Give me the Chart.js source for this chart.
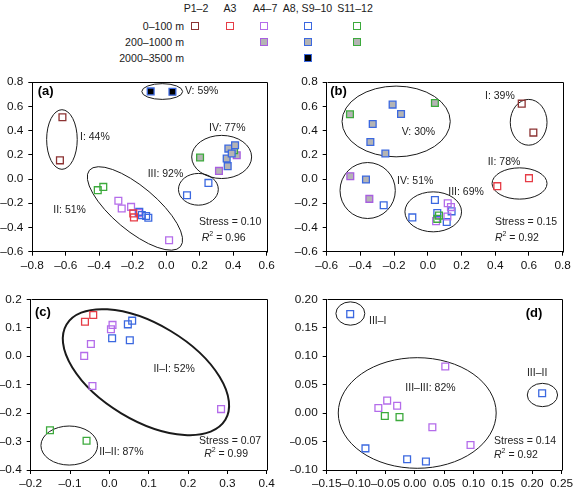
<!DOCTYPE html>
<html><head><meta charset="utf-8">
<script src="https://cdn.jsdelivr.net/npm/chart.js@4"></script>
<style>
body{margin:0;width:576px;height:491px;background:#fff;position:relative;font-family:'Liberation Sans',Arial,sans-serif;overflow:hidden}
canvas{position:absolute}
.lg{position:absolute;font-size:10.6px;color:#1a1a1a;white-space:nowrap;line-height:1}
.sq{position:absolute;box-sizing:border-box;width:8px;height:8px;border:1.3px solid}
</style></head><body>
<script>
// ---------- legend text ----------
const groupNames = ['P1–2', 'A3', 'A4–7', 'A8, S9–10', 'S11–12'];
const depthNames = ['0–100 m', '200–1000 m', '2000–3500 m'];

// ---------- panel (a) ----------
const a_P12_0 = [[-0.62, 0.51], [-0.635, 0.154]];
const a_A3_0 = [[-0.197, -0.284], [-0.193, -0.317]];
const a_A47_0 = [[-0.286, -0.18], [-0.266, -0.243], [-0.21, -0.23], [-0.165, -0.28], [0.017, -0.505]];
const a_A47_1 = [[0.315, 0.067], [0.421, 0.196]];
const a_A8_0 = [[-0.161, -0.271], [-0.146, -0.298], [-0.12, -0.305], [-0.107, -0.32], [0.124, -0.134], [0.252, -0.032]];
const a_A8_1 = [[0.367, 0.106], [0.361, 0.169], [0.371, 0.251], [0.411, 0.279], [0.391, 0.21]];
const a_A8_2 = [[-0.093, 0.723], [0.037, 0.72]];
const a_S11_0 = [[-0.409, -0.092], [-0.376, -0.065]];
const a_S11_1 = [[0.202, 0.177], [0.405, 0.237]];
const a_xTicks = [-0.8, -0.6, -0.4, -0.2, 0.0, 0.2, 0.4, 0.6];
const a_yTicks = [-0.6, -0.4, -0.2, 0.0, 0.2, 0.4, 0.6, 0.8];

// ---------- panel (b) ----------
const b_P12_0 = [[0.557, 0.622], [0.626, 0.383]];
const b_A3_0 = [[0.412, -0.059], [0.6, 0.007]];
const b_A47_0 = [[0.118, -0.2], [0.137, -0.232], [0.116, -0.31], [0.049, -0.348]];
const b_A47_1 = [[-0.46, 0.023], [-0.347, -0.164]];
const b_A8_0 = [[-0.262, -0.216], [-0.092, -0.317], [0.042, -0.173], [0.056, -0.28], [0.141, -0.267], [0.112, -0.355]];
const b_A8_1 = [[-0.209, 0.614], [-0.159, 0.536], [-0.327, 0.454], [-0.341, 0.306], [-0.252, 0.21], [-0.367, -0.004]];
const b_S11_0 = [[0.066, -0.302], [0.056, -0.329]];
const b_S11_1 = [[-0.462, 0.534], [0.042, 0.627]];
const b_xTicks = [-0.6, -0.4, -0.2, 0.0, 0.2, 0.4, 0.6, 0.8];
const b_yTicks = [-0.6, -0.4, -0.2, 0.0, 0.2, 0.4, 0.6, 0.8];

// ---------- panel (c) ----------
const c_A3_0 = [[-0.062, 0.121], [-0.041, 0.145]];
const c_A47_0 = [[0.008, 0.11], [0.004, 0.095], [-0.047, 0.043], [-0.064, 0.001], [-0.043, -0.105], [0.284, -0.186]];
const c_A8_0 = [[0.007, 0.063], [0.047, 0.112], [0.058, 0.125], [0.052, 0.056]];
const c_S11_0 = [[-0.151, -0.26], [-0.058, -0.297]];
const c_xTicks = [-0.2, -0.1, 0.0, 0.1, 0.2, 0.3, 0.4];
const c_yTicks = [-0.4, -0.3, -0.2, -0.1, 0.0, 0.1, 0.2];

// ---------- panel (d) ----------
const d_A47_0 = [[0.052, 0.082], [-0.062, 0.009], [-0.047, 0.022], [-0.03, 0.013], [0.03, -0.025], [0.095, -0.056]];
const d_A8_0 = [[-0.11, 0.174], [0.217, 0.035], [-0.084, -0.062], [-0.013, -0.081], [0.019, -0.085]];
const d_S11_0 = [[-0.051, -0.005], [-0.026, -0.007]];
const d_xTicks = [-0.15, -0.10, -0.05, 0.00, 0.05, 0.10, 0.15, 0.20, 0.25];
const d_yTicks = [-0.10, -0.05, 0.00, 0.05, 0.10, 0.15, 0.20];

// ---------- styles ----------
const FONT = "'Liberation Sans', Arial, sans-serif";
const C = { P12: '#8c3232', A3: '#e63c46', A47: '#b46cea', A8: '#3b68e0', S11: '#3caa3c' };
const GRAY = '#b4b4b4';
const styles = {
  P12_0: { c: C.P12, f: 'rgba(0,0,0,0)' },
  A3_0: { c: C.A3, f: 'rgba(0,0,0,0)' },
  A47_0: { c: C.A47, f: 'rgba(0,0,0,0)' },
  A47_1: { c: '#a85ee0', f: GRAY },
  A8_0: { c: C.A8, f: 'rgba(0,0,0,0)' },
  A8_1: { c: C.A8, f: GRAY },
  A8_2: { c: C.A8, f: '#000' },
  S11_0: { c: C.S11, f: 'rgba(0,0,0,0)' },
  S11_1: { c: C.S11, f: GRAY }
};

// ---------- legend (HTML) ----------
const legendCols = [196, 230, 265, 307.5, 355];
const legendRows = [25.7, 42.3, 58.3];
const legendCells = [['P12_0', 0, 0], ['A3_0', 1, 0], ['A47_0', 2, 0], ['A8_0', 3, 0], ['S11_0', 4, 0],
                     ['A47_1', 2, 1], ['A8_1', 3, 1], ['S11_1', 4, 1], ['A8_2', 3, 2]];
const legendSqX = [195, 230, 264, 307.7, 356.7];
function addDiv(cls, txt, css) {
  const d = document.createElement('div'); d.className = cls; if (txt) d.textContent = txt;
  Object.assign(d.style, css); document.body.appendChild(d); return d;
}
groupNames.forEach((g, i) => addDiv('lg', g, { left: legendCols[i] + 'px', top: '7.5px', transform: 'translate(-50%,-50%)' }));
depthNames.forEach((t, i) => addDiv('lg', t, { right: (576 - 184) + 'px', top: legendRows[i] + 'px', transform: 'translateY(-50%)' }));
legendCells.forEach(([k, ci, ri]) => addDiv('sq', '', { left: (legendSqX[ci] - 4) + 'px', top: (legendRows[ri] - 4) + 'px', borderColor: styles[k].c, background: styles[k].f }));

// ---------- helpers ----------
function fmt(v, d) { const s = Math.abs(v).toFixed(d); return (v < -1e-9 ? '\u2013' : '') + s; }
function ds(data, key) {
  const s = styles[key];
  return { data: data.map(p => ({ x: p[0], y: p[1] })), pointStyle: 'rect', pointRadius: 4.8,
    borderColor: s.c, backgroundColor: s.f, pointBorderWidth: 1.3, borderWidth: 1.3, showLine: false };
}

function panel(id, box, datasets, xr, yr, xt, yt, dec, ellipses, texts) {
  const cv = document.createElement('canvas');
  cv.width = box.w; cv.height = box.h;
  cv.style.left = box.left + 'px'; cv.style.top = box.top + 'px';
  document.body.appendChild(cv);
  const deco = {
    id: 'deco' + id,
    beforeDatasetsDraw(ch) {
      const ctx = ch.ctx, xs = ch.scales.x, ys = ch.scales.y;
      ctx.save();
      ctx.strokeStyle = '#1a1a1a';
      ellipses.forEach(e => {
        const cx = xs.getPixelForValue(e.x), cy = ys.getPixelForValue(e.y);
        const rx = Math.abs(xs.getPixelForValue(e.x + e.rx) - cx);
        const ry = Math.abs(ys.getPixelForValue(e.y + e.ry) - cy);
        ctx.lineWidth = e.lw || 1;
        ctx.beginPath();
        ctx.ellipse(cx, cy, rx, ry, (e.rot || 0) * Math.PI / 180, 0, Math.PI * 2);
        ctx.stroke();
      });
      ctx.restore();
    },
    afterDraw(ch) {
      const ctx = ch.ctx, xs = ch.scales.x, ys = ch.scales.y, a = ch.chartArea;
      ctx.save();
      ctx.strokeStyle = '#000'; ctx.lineWidth = 1;
      ctx.beginPath();
      ctx.moveTo(Math.round(a.left) + 0.5, Math.round(a.top) + 0.5);
      ctx.lineTo(Math.round(a.right) + 0.5, Math.round(a.top) + 0.5);
      ctx.lineTo(Math.round(a.right) + 0.5, Math.round(a.bottom) + 0.5);
      ctx.stroke();
      ctx.fillStyle = '#222'; ctx.textBaseline = 'middle'; ctx.textAlign = 'left';
      texts.forEach(t => {
        let px = xs.getPixelForValue(t.x); const py = ys.getPixelForValue(t.y);
        if (t.bold) { ctx.font = 'bold 13px ' + FONT; ctx.fillStyle = '#000'; ctx.fillText(t.t, px, py); ctx.fillStyle = '#222'; return; }
        if (t.r2) {
          ctx.font = 'italic 10.5px ' + FONT; ctx.fillText('R', px, py); px += ctx.measureText('R').width;
          ctx.font = '7px ' + FONT; ctx.fillText('2', px, py - 4); px += ctx.measureText('2').width;
          ctx.font = '10.5px ' + FONT; ctx.fillText(' = ' + t.t, px, py); return;
        }
        ctx.font = '10.5px ' + FONT; ctx.fillText(t.t, px, py);
      });
      ctx.restore();
    }
  };
  const axis = (min, max, ticks, fit, horiz) => ({
    type: 'linear', min, max,
    afterBuildTicks: s => { s.ticks = ticks.map(v => ({ value: v })); },
    afterFit: s => { if (horiz) s.height = fit; else s.width = fit; },
    ticks: { callback: v => fmt(v, dec), font: { family: FONT, size: 11.8 }, color: '#111', padding: horiz ? 3 : 5, maxRotation: 0, autoSkip: false },
    grid: { drawOnChartArea: false, drawTicks: true, tickLength: 4, color: '#000', lineWidth: 1 },
    border: { display: true, color: '#000', width: 1 }
  });
  return new Chart(cv, {
    type: 'scatter',
    data: { datasets },
    options: {
      responsive: false, animation: false, devicePixelRatio: 1,
      layout: { padding: box.pad },
      plugins: { legend: { display: false }, tooltip: { enabled: false } },
      scales: { x: axis(xr[0], xr[1], xt, box.xH, true), y: axis(yr[0], yr[1], yt, box.yW, false) }
    },
    plugins: [deco]
  });
}

// ---------- panels ----------
panel('a', { left: 0, top: 70, w: 285, h: 205, pad: { left: 0, top: 11.7, right: 18.3, bottom: 3.3 }, yW: 32.3, xH: 20 },
  [ds(a_P12_0, 'P12_0'), ds(a_A3_0, 'A3_0'), ds(a_A8_0, 'A8_0'), ds(a_A47_0, 'A47_0'), ds(a_S11_0, 'S11_0'),
   ds(a_A8_1, 'A8_1'), ds(a_S11_1, 'S11_1'), ds(a_A47_1, 'A47_1'), ds(a_A8_2, 'A8_2')],
  [-0.8, 0.6], [-0.6, 0.8], a_xTicks, a_yTicks, 1,
  [{ x: -0.623, y: 0.326, rx: 0.0914, ry: 0.246 }, { x: -0.024, y: 0.722, rx: 0.122, ry: 0.065 },
   { x: 0.331, y: 0.182, rx: 0.179, ry: 0.178 }, { x: 0.192, y: -0.085, rx: 0.119, ry: 0.131 },
   { x: -0.187, y: -0.243, rx: 0.355, ry: 0.181, rot: 40 }],
  [{ t: '(a)', x: -0.768, y: 0.723, bold: true }, { t: 'V: 59%', x: 0.112, y: 0.723 }, { t: 'I: 44%', x: -0.515, y: 0.347 },
   { t: 'IV: 77%', x: 0.256, y: 0.424 }, { t: 'III: 92%', x: -0.111, y: 0.04 }, { t: 'II: 51%', x: -0.675, y: -0.257 },
   { t: 'Stress = 0.10', x: 0.196, y: -0.353 }, { t: '0.96', x: 0.212, y: -0.485, r2: true }]);

panel('b', { left: 290, top: 70, w: 286, h: 205, pad: { left: 0, top: 11.7, right: 13.3, bottom: 3.3 }, yW: 36.7, xH: 20 },
  [ds(b_P12_0, 'P12_0'), ds(b_A3_0, 'A3_0'), ds(b_S11_0, 'S11_0'), ds(b_A47_0, 'A47_0'), ds(b_A8_0, 'A8_0'),
   ds(b_A8_1, 'A8_1'), ds(b_A47_1, 'A47_1'), ds(b_S11_1, 'S11_1')],
  [-0.6, 0.8], [-0.6, 0.8], b_xTicks, b_yTicks, 1,
  [{ x: -0.188, y: 0.475, rx: 0.321, ry: 0.292 }, { x: 0.598, y: 0.468, rx: 0.109, ry: 0.189 },
   { x: 0.544, y: -0.037, rx: 0.163, ry: 0.129 }, { x: -0.357, y: -0.095, rx: 0.164, ry: 0.231 },
   { x: 0.032, y: -0.271, rx: 0.168, ry: 0.165 }],
  [{ t: '(b)', x: -0.579, y: 0.723, bold: true }, { t: 'I: 39%', x: 0.339, y: 0.685 }, { t: 'V: 30%', x: -0.155, y: 0.383 },
   { t: 'II: 78%', x: 0.355, y: 0.136 }, { t: 'IV: 51%', x: -0.183, y: -0.018 }, { t: 'III: 69%', x: 0.121, y: -0.106 },
   { t: 'Stress = 0.15', x: 0.398, y: -0.358 }, { t: '0.92', x: 0.398, y: -0.49, r2: true }]);

panel('c', { left: 0, top: 285, w: 285, h: 206, pad: { left: 0, top: 14.3, right: 18.3, bottom: 1 }, yW: 30.7, xH: 20 },
  [ds(c_A3_0, 'A3_0'), ds(c_A8_0, 'A8_0'), ds(c_A47_0, 'A47_0'), ds(c_S11_0, 'S11_0')],
  [-0.2, 0.4], [-0.4, 0.2], c_xTicks, c_yTicks, 1,
  [{ x: 0.093, y: -0.056, rx: 0.2355, ry: 0.1687, rot: 31, lw: 2 }, { x: -0.102, y: -0.314, rx: 0.072, ry: 0.0686 }],
  [{ t: '(c)', x: -0.189, y: 0.154, bold: true }, { t: 'II–I: 52%', x: 0.112, y: -0.046 }, { t: 'II–II: 87%', x: -0.026, y: -0.336 },
   { t: 'Stress = 0.07', x: 0.228, y: -0.297 }, { t: '0.99', x: 0.241, y: -0.345, r2: true }]);

panel('d', { left: 290, top: 285, w: 286, h: 206, pad: { left: 0, top: 14.3, right: 13.3, bottom: 1 }, yW: 36.7, xH: 20 },
  [ds(d_A8_0, 'A8_0'), ds(d_A47_0, 'A47_0'), ds(d_S11_0, 'S11_0')],
  [-0.15, 0.25], [-0.10, 0.20], d_xTicks, d_yTicks, 2,
  [{ x: -0.1097, y: 0.175, rx: 0.0246, ry: 0.0205 }, { x: 0.2175, y: 0.0318, rx: 0.0258, ry: 0.0205 },
   { x: 0.0042, y: 0.0002, rx: 0.1345, ry: 0.0972 }],
  [{ t: '(d)', x: 0.189, y: 0.175, bold: true }, { t: 'III–I', x: -0.078, y: 0.162 }, { t: 'III–II', x: 0.191, y: 0.07 },
   { t: 'III–III: 82%', x: -0.016, y: 0.044 }, { t: 'Stress = 0.14', x: 0.135, y: -0.049 }, { t: '0.92', x: 0.135, y: -0.074, r2: true }]);
</script>
</body></html>
